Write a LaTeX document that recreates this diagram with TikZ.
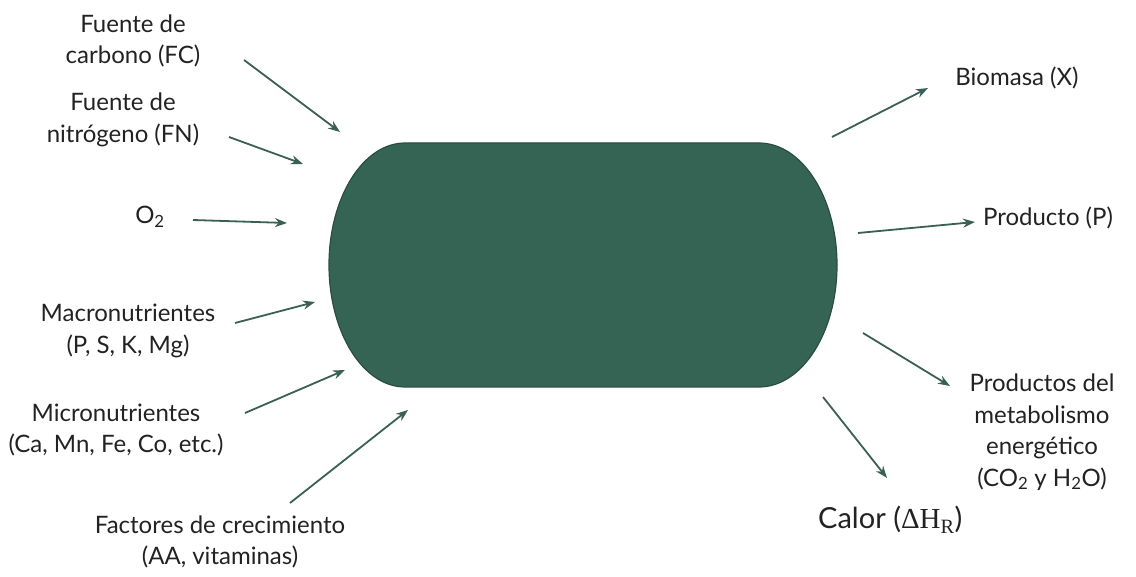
\documentclass[tikz,border=0pt]{standalone}
\usepackage{fontspec}
\setmainfont{Lato}
\newfontfamily\serifr{Liberation Serif}
\usetikzlibrary{arrows.meta}
\definecolor{cellgreen}{HTML}{356455}
\definecolor{celledge}{HTML}{2A4D42}
\definecolor{arrowc}{HTML}{3A5F55}
\definecolor{txt}{HTML}{222222}
\tikzset{
  lbl/.style={text=txt, align=center, inner sep=0pt, font=\fontsize{24}{31.5}\selectfont},
  flow/.style={draw=arrowc, line width=1.8pt, -{Stealth[length=12pt,width=9pt]}}
}
\begin{document}
\begin{tikzpicture}[x=1pt,y=-1pt]
\useasboundingbox (0,0) rectangle (1136,577);
% cell
\path[fill=cellgreen, draw=celledge, line width=1.2pt]
  (405,143) -- (759,143)
  arc[start angle=-90, end angle=90, x radius=78, y radius=122]
  -- (405,387)
  arc[start angle=90, end angle=270, x radius=76, y radius=122] -- cycle;
% labels left
\node[lbl] (fc) at (133,41) {Fuente de\\carbono (FC)};
\node[lbl] (fn) at (123,120) {Fuente de\\nitrógeno (FN)};
\node[lbl] (o2) at (150,217) {O\textsubscript{2}};
\node[lbl] (macro) at (128,331) {Macronutrientes\\(P, S, K, Mg)};
\node[lbl] (micro) at (116,430) {Micronutrientes\\(Ca, Mn, Fe, Co, etc.)};
\node[lbl] (fact) at (220,542) {Factores de crecimiento\\(AA, vitaminas)};
% labels right
\node[lbl] (bio) at (1017,78) {Biomasa (X)};
\node[lbl] (prod) at (1048,218) {Producto (P)};
\node[lbl] (meta) at (1042,432) {Productos del\\metabolismo\\energético\\(CO\textsubscript{2} y H\textsubscript{2}O)};
\node[lbl, font=\fontsize{29}{34}\selectfont, anchor=west] (calor) at (818,520) {Calor ({\serifr ΔH\textsubscript{R}})};
% arrow end points
\coordinate (fcA) at (244,60);  \coordinate (fcB) at (340,132);
\coordinate (fnA) at (229,137); \coordinate (fnB) at (303,164);
\coordinate (o2A) at (193,220); \coordinate (o2B) at (287,223);
\coordinate (maA) at (235,323); \coordinate (maB) at (315,302);
\coordinate (miA) at (245,413); \coordinate (miB) at (345,370);
\coordinate (faA) at (290,503); \coordinate (faB) at (408,410);
\coordinate (biA) at (832,137); \coordinate (biB) at (928,88);
\coordinate (prA) at (858,233); \coordinate (prB) at (975,222);
\coordinate (meA) at (863,333); \coordinate (meB) at (950,386);
\coordinate (caA) at (823,397); \coordinate (caB) at (887,478);
\draw[flow] (fcA) -- (fcB);
\draw[flow] (fnA) -- (fnB);
\draw[flow] (o2A) -- (o2B);
\draw[flow] (maA) -- (maB);
\draw[flow] (miA) -- (miB);
\draw[flow] (faA) -- (faB);
\draw[flow] (biA) -- (biB);
\draw[flow] (prA) -- (prB);
\draw[flow] (meA) -- (meB);
\draw[flow] (caA) -- (caB);
\end{tikzpicture}
\end{document}
